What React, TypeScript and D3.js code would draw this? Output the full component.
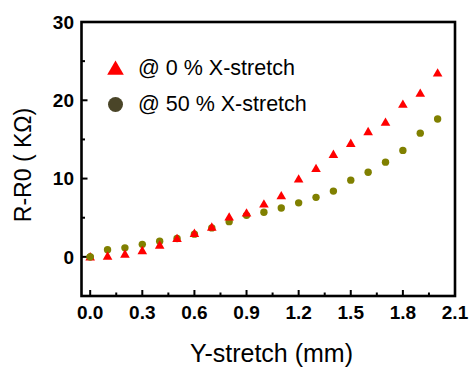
import { useEffect, useRef } from 'react';
import * as d3 from 'd3';

const stretch = [0, 0.1, 0.2, 0.3, 0.4, 0.5, 0.6, 0.7, 0.8, 0.9, 1.0, 1.1, 1.2, 1.3, 1.4, 1.5, 1.6, 1.7, 1.8, 1.9, 2.0];
const xStretch0 = [0, 0.1, 0.35, 0.8, 1.5, 2.35, 3.0, 3.8, 5.1, 5.6, 6.75, 7.8, 9.95, 11.3, 13.1, 14.5, 16.0, 17.2, 19.5, 20.9, 23.5];
const xStretch50 = [0, 0.9, 1.15, 1.6, 2.0, 2.35, 2.9, 3.7, 4.5, 5.3, 5.7, 6.25, 6.9, 7.6, 8.4, 9.8, 10.8, 12.1, 13.6, 15.8, 17.6];
const xTicks = [0, 0.3, 0.6, 0.9, 1.2, 1.5, 1.8, 2.1];
const xMinor = [0.15, 0.45, 0.75, 1.05, 1.35, 1.65, 1.95];
const yTicks = [0, 10, 20, 30];
const yMinor = [5, 15, 25];
const legendLabels = ['@ 0 % X-stretch', '@ 50 % X-stretch'];

const font = '"Liberation Sans", Arial, sans-serif';

export default function App() {
  const svgRef = useRef<SVGSVGElement>(null);

  useEffect(() => {
    document.body.style.margin = '0';
    if (!svgRef.current) return;
    const svg = d3.select(svgRef.current);
    svg.selectAll('*').remove();

    const x = d3.scaleLinear().domain([-0.05, 2.1]).range([81.5, 455]);
    const y = d3.scaleLinear().domain([-5, 30]).range([296, 22]);

    const g = svg.append('g');

    // ticks point inward
    g.selectAll('line.xmaj').data(xTicks).join('line')
      .attr('x1', d => x(d)).attr('x2', d => x(d))
      .attr('y1', y(-5)).attr('y2', y(-5) - 6)
      .attr('stroke', '#000').attr('stroke-width', 2);
    g.selectAll('line.xmin').data(xMinor).join('line')
      .attr('x1', d => x(d)).attr('x2', d => x(d))
      .attr('y1', y(-5)).attr('y2', y(-5) - 3.5)
      .attr('stroke', '#000').attr('stroke-width', 2);
    g.selectAll('line.ymaj').data(yTicks).join('line')
      .attr('x1', x(-0.05)).attr('x2', x(-0.05) + 6)
      .attr('y1', d => y(d)).attr('y2', d => y(d))
      .attr('stroke', '#000').attr('stroke-width', 2);
    g.selectAll('line.ymin').data(yMinor).join('line')
      .attr('x1', x(-0.05)).attr('x2', x(-0.05) + 3.5)
      .attr('y1', d => y(d)).attr('y2', d => y(d))
      .attr('stroke', '#000').attr('stroke-width', 2);

    // frame
    g.append('rect')
      .attr('x', x(-0.05)).attr('y', y(30))
      .attr('width', x(2.1) - x(-0.05)).attr('height', y(-5) - y(30))
      .attr('fill', 'none').attr('stroke', '#000').attr('stroke-width', 2.6);

    // tick labels
    g.selectAll('text.xl').data(xTicks).join('text')
      .attr('x', d => x(d)).attr('y', 319)
      .attr('text-anchor', 'middle')
      .attr('font-family', font).attr('font-weight', 'bold').attr('font-size', 19)
      .text(d => d3.format('.1f')(d));
    g.selectAll('text.yl').data(yTicks).join('text')
      .attr('x', 74).attr('y', d => y(d))
      .attr('dy', '0.35em')
      .attr('text-anchor', 'end')
      .attr('font-family', font).attr('font-weight', 'bold').attr('font-size', 19)
      .text(d => d);

    // axis titles
    svg.append('text')
      .attr('x', 271.5).attr('y', 362)
      .attr('text-anchor', 'middle')
      .attr('font-family', font).attr('font-size', 25)
      .text('Y-stretch (mm)');
    svg.append('text')
      .attr('transform', 'translate(30.5,165) rotate(-90)')
      .attr('text-anchor', 'middle')
      .attr('font-family', font).attr('font-size', 23)
      .text('R-R0 ( KΩ)');

    const tri = d3.symbol().type(d3.symbolTriangle);

    g.selectAll('circle.s50').data(stretch).join('circle')
      .attr('cx', d => x(d)).attr('cy', (_d, i) => y(xStretch50[i]))
      .attr('r', 3.7).attr('fill', '#808000');
    g.selectAll('path.s0').data(stretch).join('path')
      .attr('transform', (d, i) => `translate(${x(d)},${y(xStretch0[i]) + 0.8})`)
      .attr('d', tri.size(40)()).attr('fill', '#ff0000');
    // first circle sits on top of the first triangle
    g.append('circle')
      .attr('cx', x(stretch[0])).attr('cy', y(xStretch50[0]))
      .attr('r', 3.7).attr('fill', '#808000');

    // legend
    const leg = svg.append('g');
    leg.append('path')
      .attr('transform', 'translate(115.5,70)')
      .attr('d', tri.size(120)()).attr('fill', '#ff0000');
    leg.append('circle')
      .attr('cx', 115.5).attr('cy', 104.5).attr('r', 7.5).attr('fill', '#4a4528');
    leg.selectAll('text').data(legendLabels).join('text')
      .attr('x', 138).attr('y', (_d, i) => 75 + i * 36)
      .attr('font-family', font).attr('font-size', 21.5)
      .text(d => d);
  }, []);

  return <svg ref={svgRef} width={469} height={367} style={{ display: 'block' }} />;
}
